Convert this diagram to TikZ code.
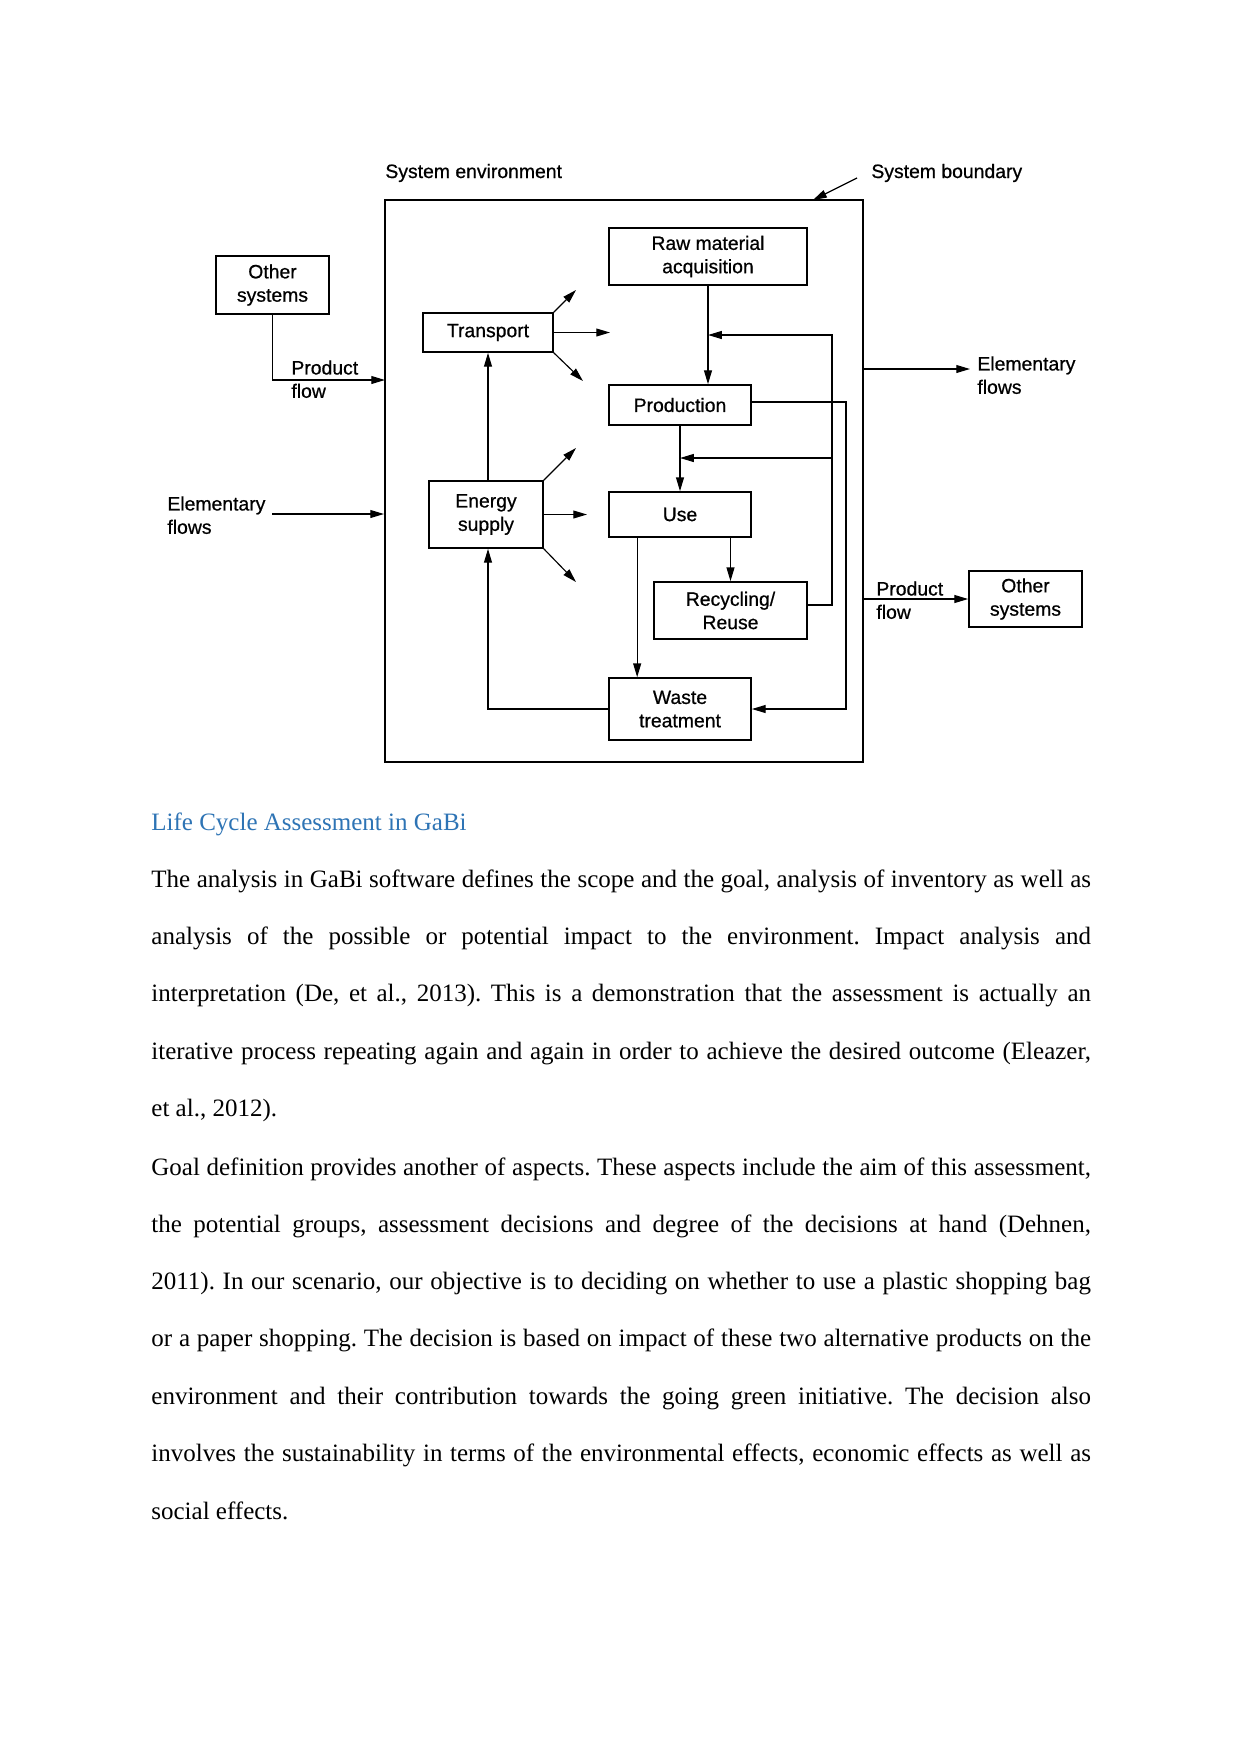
\documentclass[tikz,border=0pt]{standalone}
\usepackage{fontspec}
\setmainfont{Liberation Serif}
\newfontfamily\diagfont[FakeBold=0.7]{Liberation Sans}
\usetikzlibrary{arrows.meta,calc}
\definecolor{headblue}{RGB}{46,116,181}
\newcommand\pxu{0.48pt}
\frenchspacing
\begin{document}
\begin{tikzpicture}[x=0.48pt,y=-0.48pt,
  box/.style={draw, line width=0.8pt, inner sep=0pt, align=center,
    font=\diagfont\fontsize{9.3}{11.2}\selectfont},
  lbl/.style={inner sep=0pt, align=left, font=\diagfont\fontsize{9.3}{11.2}\selectfont},
  arr/.style={-{Triangle[length=6.6pt,width=3.8pt]}, line width=0.55pt},
  body/.style={anchor=base west, inner sep=0pt, font=\fontsize{12}{14}\selectfont}]
\fill[white] (0,0) rectangle (1241,1754);
\useasboundingbox (0,0) rectangle (1241,1754);

% ---------- diagram ----------
\node[draw, line width=0.95pt, inner sep=0pt, minimum width=478*\pxu, minimum height=562*\pxu] (sys) at (624,481) {};

\node[box, minimum width=198*\pxu, minimum height=57*\pxu] (raw) at (708,256.5) {Raw material\\acquisition};
\node[box, minimum width=130*\pxu, minimum height=39*\pxu] (transport) at (488,332.5) {Transport};
\node[box, minimum width=142*\pxu, minimum height=40*\pxu] (prod) at (680,405) {Production};
\node[box, minimum width=114*\pxu, minimum height=67*\pxu] (energy) at (486,514.5) {Energy\\supply};
\node[box, minimum width=142*\pxu, minimum height=45*\pxu] (use) at (680,514.5) {Use};
\node[box, minimum width=153*\pxu, minimum height=57*\pxu] (recyc) at (730.5,610.5) {Recycling/\\Reuse};
\node[box, minimum width=142*\pxu, minimum height=62*\pxu] (waste) at (680,709) {Waste\\treatment};
\node[box, minimum width=113*\pxu, minimum height=58*\pxu] (othL) at (272.5,285) {Other\\systems};
\node[box, minimum width=113*\pxu, minimum height=56*\pxu] (othR) at (1025.5,599) {Other\\systems};

\node[lbl, anchor=base west] (senv) at (385,178) {System environment};
\node[lbl, anchor=base west] (sbound) at (871,178) {System boundary};
\node[lbl, anchor=north west] (pfL) at (291,360) {Product\\flow};
\node[lbl, anchor=north west] (efL) at (167,496) {Elementary\\flows};
\node[lbl, anchor=north west] (efR) at (977,356) {Elementary\\flows};
\node[lbl, anchor=north west] (pfR) at (876,581) {Product\\flow};

% coordinates
\coordinate (sb1) at (857,178);
\coordinate (sb2) at (813,200);
\coordinate (pL) at (385,380);
\coordinate (eL) at (272,514);
\coordinate (eR) at (863,369);
\coordinate (eRt) at (970,369);
\coordinate (fbT) at (832,335);
\coordinate (fbM) at (832,458);
\coordinate (j1) at (708,335);
\coordinate (j2) at (680,458);
\coordinate (pw) at (846,402);
\coordinate (t1) at (576,290);
\coordinate (t2) at (610,332.5);
\coordinate (t3) at (583,381);
\coordinate (e1) at (576,448);
\coordinate (e2) at (587,514.5);
\coordinate (e3) at (576,582);

% system boundary pointer
\draw[arr] (sb1) -- (sb2);

% external flows
\draw[arr] (othL.south) |- (pL);
\draw[arr] (eL) -- (eL -| sys.west);
\draw[arr] (eR) -- (eRt);
\draw[arr] (sys.east |- othR.west) -- (othR.west);

% main chain
\draw[arr] (raw.south) -- (raw.south |- prod.north);
\draw[arr] (prod.south) -- (use.north);
\draw[arr] (recyc.north |- use.south) -- (recyc.north);
\draw[arr] ($(use.south west)+(29,0)$) -- ($(waste.north west)+(29,0)$);

% recycling feedback
\draw[arr] ($(recyc.east)+(0,-5.5)$) -| (fbT) -- (j1);
\draw[arr] (fbM) -- (j2);

% production to waste
\draw[arr] ($(prod.east)+(0,-3)$) -- (pw) |- (waste.east);

% waste to energy, energy to transport
\draw[arr] (waste.west) -| (energy.south -| transport.south);
\draw[arr] (transport.south |- energy.north) -- (transport.south);

% transport outputs
\draw[arr] (transport.north east) -- (t1);
\draw[arr] (transport.east) -- (t2);
\draw[arr] (transport.south east) -- (t3);

% energy outputs
\draw[arr] (energy.north east) -- (e1);
\draw[arr] (energy.east) -- (e2);
\draw[arr] (energy.south east) -- (e3);

% ---------- text ----------
\node[body, text=headblue] (head) at (151,830.7) {Life Cycle Assessment in GaBi};

\node[body] (p1a) at (151,887.3) {\makebox[451pt][s]{The analysis in GaBi software defines the scope and the goal, analysis of inventory as well as}};
\node[body] (p1b) at (151,944.5) {\makebox[451pt][s]{analysis of the possible or potential impact to the environment. Impact analysis and}};
\node[body] (p1c) at (151,1001.7) {\makebox[451pt][s]{interpretation (De, et al., 2013). This is a demonstration that the assessment is actually an}};
\node[body] (p1d) at (151,1059.2) {\makebox[451pt][s]{iterative process repeating again and again in order to achieve the desired outcome (Eleazer,}};
\node[body] (p1e) at (151,1116.7) {et al., 2012).};

\node[body] (p2a) at (151,1175) {\makebox[451pt][s]{Goal definition provides another of aspects. These aspects include the aim of this assessment,}};
\node[body] (p2b) at (151,1232) {\makebox[451pt][s]{the potential groups, assessment decisions and degree of the decisions at hand (Dehnen,}};
\node[body] (p2c) at (151,1289.4) {\makebox[451pt][s]{2011). In our scenario, our objective is to deciding on whether to use a plastic shopping bag}};
\node[body] (p2d) at (151,1346.8) {\makebox[451pt][s]{or a paper shopping. The decision is based on impact of these two alternative products on the}};
\node[body] (p2e) at (151,1404.4) {\makebox[451pt][s]{environment and their contribution towards the going green initiative. The decision also}};
\node[body] (p2f) at (151,1461.8) {\makebox[451pt][s]{involves the sustainability in terms of the environmental effects, economic effects as well as}};
\node[body] (p2g) at (151,1519.3) {social effects.};
\end{tikzpicture}
\end{document}
